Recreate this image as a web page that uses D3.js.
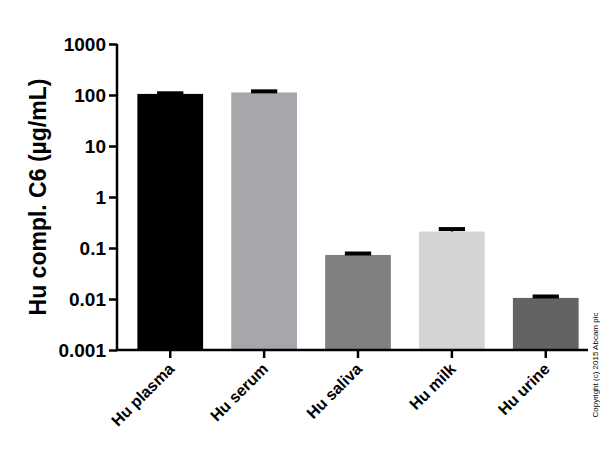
<!DOCTYPE html><html><head><script src="https://cdn.jsdelivr.net/npm/d3@7"></script>
<style>body{margin:0;background:#fff}</style></head><body><svg id="c" width="600" height="468"></svg>
<script>
const categories=["Hu plasma","Hu serum","Hu saliva","Hu milk","Hu urine"];
const values=[105,112,0.073,0.21,0.0105];
const errors=[108,118,0.078,0.235,0.0112];
const colors=["#000000","#a7a6ab","#808080","#d4d4d4","#636363"];
const tickVals=[0.001,0.01,0.1,1,10,100,1000];
const tickLabels=["0.001","0.01","0.1","1","10","100","1000"];
const svg=d3.select("#c");
const y=d3.scaleLog().domain([0.001,1000]).range([350,44]);
const x=d3.scaleBand().domain(categories).range([128,588]).paddingInner(0.3).paddingOuter(0.1);
const g=svg.append("g");
g.selectAll("rect").data(categories).join("rect").attr("x",d=>x(d)).attr("width",x.bandwidth())
 .attr("y",(d,i)=>y(values[i])).attr("height",(d,i)=>350-y(values[i])).attr("fill",(d,i)=>colors[i]);
g.selectAll(".e").data(categories).join("line").attr("x1",d=>x(d)+x.bandwidth()*0.3).attr("x2",d=>x(d)+x.bandwidth()*0.7)
 .attr("y1",(d,i)=>y(errors[i])).attr("y2",(d,i)=>y(errors[i])).attr("stroke","#000").attr("stroke-width",4);
g.selectAll(".ev").data(categories).join("line").attr("x1",d=>x(d)+x.bandwidth()/2).attr("x2",d=>x(d)+x.bandwidth()/2)
 .attr("y1",(d,i)=>y(errors[i])).attr("y2",(d,i)=>y(values[i])).attr("stroke","#000").attr("stroke-width",2);
const ya=svg.append("g").attr("transform","translate(117,0)");
ya.call(d3.axisLeft(y).tickValues(tickVals).tickFormat((d,i)=>tickLabels[i]).tickSize(8).tickPadding(3));
ya.selectAll("text").attr("font-family","Liberation Sans, Arial").attr("font-weight","bold").attr("font-size","19px").attr("fill","#000");
ya.selectAll("path,line").attr("stroke","#000").attr("stroke-width",2.5);
ya.select(".domain").attr("d","M0,44V350");
const xa=svg.append("g").attr("transform","translate(0,350)");
xa.append("line").attr("x1",116).attr("x2",588).attr("stroke","#000").attr("stroke-width",2.5);
xa.selectAll(".t").data(categories).join("line").attr("x1",d=>x(d)+x.bandwidth()/2).attr("x2",d=>x(d)+x.bandwidth()/2).attr("y1",0).attr("y2",8).attr("stroke","#000").attr("stroke-width",2.5);
xa.selectAll("text").data(categories).join("text").attr("transform",d=>`translate(${x(d)+x.bandwidth()/2+5},${20}) rotate(-45)`)
 .attr("text-anchor","end").attr("font-family","Liberation Sans, Arial").attr("font-weight","bold").attr("font-size","16px").text(d=>d);
svg.append("text").attr("transform","translate(46,197) rotate(-90)").attr("text-anchor","middle").attr("font-family","Liberation Sans, Arial").attr("font-weight","bold").attr("font-size","23px").text("Hu compl. C6 (µg/mL)");
svg.append("text").attr("transform","translate(598,365) rotate(-90)").attr("text-anchor","middle").attr("font-family","Liberation Sans, Arial").attr("font-size","8px").text("Copyright (c) 2015 Abcam plc");
</script></body></html>
